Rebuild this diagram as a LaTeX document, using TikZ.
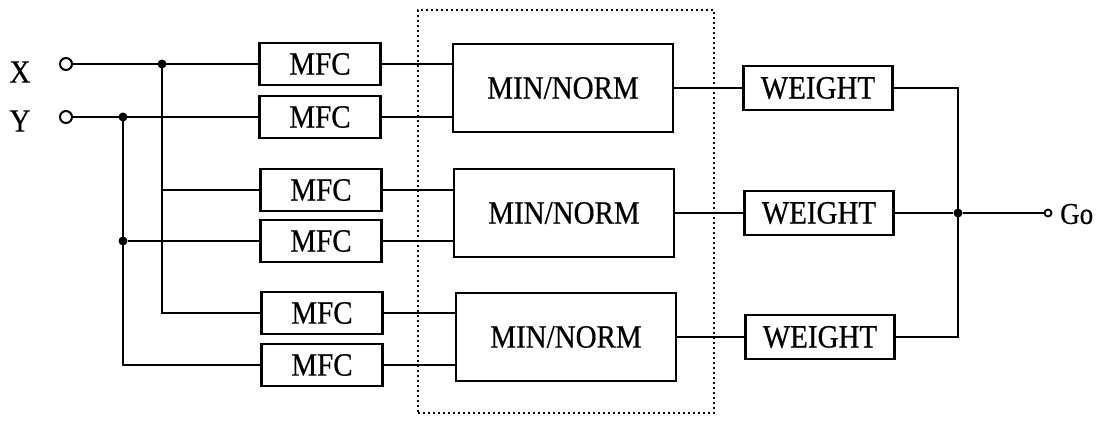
\documentclass[tikz,border=0pt]{standalone}
\usepackage{graphicx}
\usepackage{fontspec}
\setmainfont{Liberation Serif}[FakeBold=0.6]
% tall lettering used inside the blocks
\newcommand{\tall}[1]{\scalebox{1}[1.12]{#1}}
\begin{document}
\begin{tikzpicture}[x=1pt,y=-1pt,
  box/.style={draw, line width=2.4pt, inner sep=0pt, font=\fontsize{29}{34}\selectfont},
  mfc/.style={box, minimum width=121pt, minimum height=42pt},
  mn/.style={box, minimum width=220pt, minimum height=88pt},
  wt/.style={box, minimum width=149pt, minimum height=44pt},
  wire/.style={line width=2.1pt},
  dot/.style={circle, fill, inner sep=0pt, minimum size=9pt},
  term/.style={circle, draw, line width=2pt, fill=white, inner sep=0pt, minimum size=12pt},
  lbl/.style={inner sep=0pt, font=\fontsize{29}{34}\selectfont}]
\useasboundingbox (0,0) rectangle (1107,420);

% dotted frame around the min/norm stage
\node[draw, line width=2.2pt, dash pattern=on 2pt off 3pt, minimum width=296pt,
      minimum height=403pt, inner sep=0pt] (frame) at (566,211.5) {};

% inputs
\node[lbl] (lx) at (20,72) {\tall{X}};
\node[lbl] (ly) at (20,121) {\tall{Y}};
\node[term] (tx) at (66,64) {};
\node[term] (ty) at (66,117) {};

% membership function blocks
\node[mfc] (m1) at (320,64)  {\tall{MFC}};
\node[mfc] (m2) at (320,117) {\tall{MFC}};
\node[mfc] (m3) at (321,190) {\tall{MFC}};
\node[mfc] (m4) at (321,241) {\tall{MFC}};
\node[mfc] (m5) at (322,313) {\tall{MFC}};
\node[mfc] (m6) at (322,365) {\tall{MFC}};

% min / norm blocks
\node[mn] (n1) at (563,88)  {\tall{MIN/NORM}};
\node[mn] (n2) at (564,213) {\tall{MIN/NORM}};
\node[mn] (n3) at (566,337) {\tall{MIN/NORM}};

% weight blocks
\node[wt] (w1) at (818,88)  {\tall{WEIGHT}};
\node[wt] (w2) at (819,213) {\tall{WEIGHT}};
\node[wt] (w3) at (820,337) {\tall{WEIGHT}};

% input distribution
\node[dot] (jx) at (162,64) {};
\node[dot] (jy) at (123,117) {};
\node[dot] (jy2) at (123,241) {};
\draw[wire] (tx) -- (m1.west);
\draw[wire] (ty) -- (m2.west);
\draw[wire] (jx.center) |- (m5.west);
\draw[wire] (jx.center |- m3.west) -- (m3.west);
\draw[wire] (jy.center) |- (m6.west);
\draw[wire] (jy2) -- (m4.west);

% mfc to min/norm
\draw[wire] (m1.east) -- (m1.east -| n1.west);
\draw[wire] (m2.east) -- (m2.east -| n1.west);
\draw[wire] (m3.east) -- (m3.east -| n2.west);
\draw[wire] (m4.east) -- (m4.east -| n2.west);
\draw[wire] (m5.east) -- (m5.east -| n3.west);
\draw[wire] (m6.east) -- (m6.east -| n3.west);

% min/norm to weight
\draw[wire] (n1.east) -- (w1.west);
\draw[wire] (n2.east) -- (w2.west);
\draw[wire] (n3.east) -- (w3.west);

% summing node and output
\node[dot] (js) at (958,213) {};
\node[circle, draw, line width=1.8pt, fill=white, inner sep=0pt, minimum size=7pt] (go) at (1048,213) {};
\node[lbl, anchor=west, font=\fontsize{27}{32}\selectfont] (lgo) at (1060,214) {\tall{Go}};
\draw[wire] (w1.east) -| (js.center);
\draw[wire] (w3.east) -| (js.center);
\draw[wire] (w2.east) -- (js);
\draw[wire] (js) -- (go);
\end{tikzpicture}
\end{document}
